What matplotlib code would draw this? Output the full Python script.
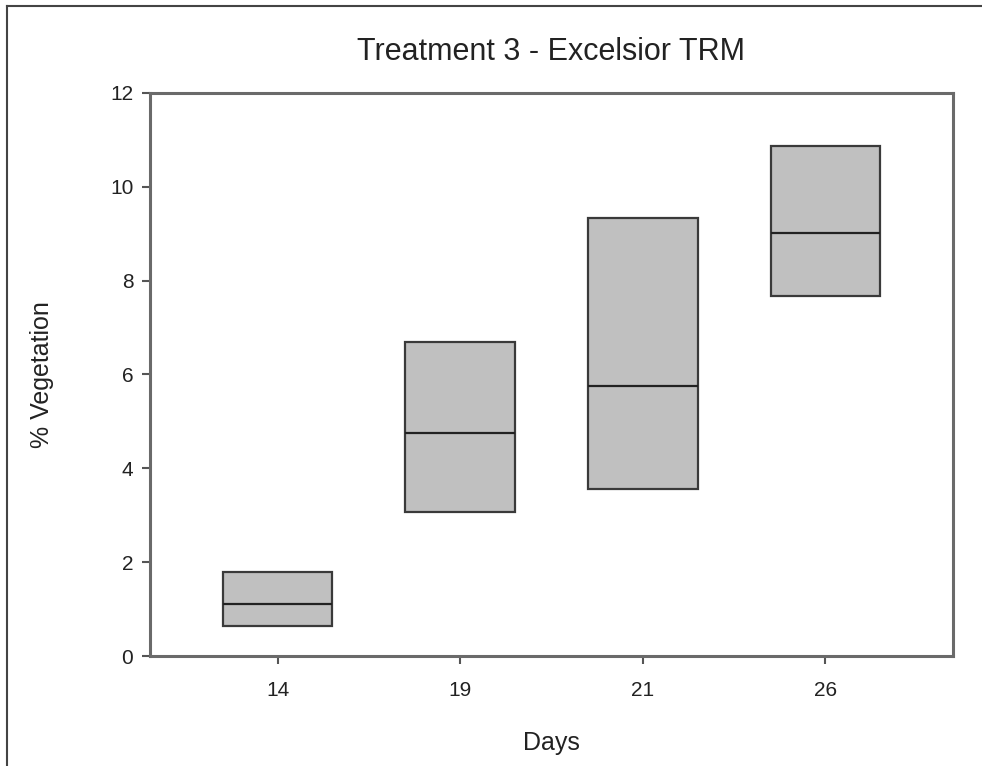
import matplotlib
matplotlib.use("Agg")
import matplotlib.pyplot as plt
from matplotlib.lines import Line2D

plt.rcParams['font.family'] = ['Liberation Sans', 'DejaVu Sans']

# box statistics
days = ['14', '19', '21', '26']
q1 = [0.64, 3.07, 3.56, 7.68]
median = [1.11, 4.75, 5.76, 9.02]
q3 = [1.80, 6.70, 9.34, 10.88]

stats = []
for lab, lo, med, hi in zip(days, q1, median, q3):
    stats.append(dict(label=lab, q1=lo, med=med, q3=hi, whislo=lo, whishi=hi))

fig = plt.figure(figsize=(9.82, 7.66), dpi=100)
ax = fig.add_axes([0.1527, 0.1436, 0.8178, 0.735])

ax.bxp(stats, positions=range(1, len(days) + 1), widths=0.6, patch_artist=True,
       showfliers=False, showcaps=False,
       boxprops=dict(facecolor='#c0c0c0', edgecolor='#3a3a3a', linewidth=1.6),
       medianprops=dict(color='#222222', linewidth=1.6),
       whiskerprops=dict(linestyle='none'))

ax.set_xlim(0.3, 4.7)
ax.set_ylim(0, 12)
ax.set_yticks([0, 2, 4, 6, 8, 10, 12])

for s in ax.spines.values():
    s.set_color('#6a6a6a')
    s.set_linewidth(2.2)
ax.tick_params(axis='both', direction='out', length=6, width=1.5, color='#555555',
               labelsize=15, labelcolor='#222222', pad=6)
ax.tick_params(axis='x', pad=12)
ax.tick_params(top=False, right=False)

ax.set_title('Treatment 3 - Excelsior TRM', fontsize=22, color='#222222', pad=24)
ax.set_xlabel('Days', fontsize=18, color='#222222', labelpad=22)
ax.set_ylabel('% Vegetation', fontsize=18, color='#222222', labelpad=40)

# outer frame on left and top edges
fig.add_artist(Line2D([7 / 982, 7 / 982], [0, 1 - 6 / 766], transform=fig.transFigure,
                      color='#444444', linewidth=1.5))
fig.add_artist(Line2D([7 / 982, 1], [1 - 6 / 766, 1 - 6 / 766], transform=fig.transFigure,
                      color='#444444', linewidth=1.5))

fig.savefig('out.png', dpi=100)
